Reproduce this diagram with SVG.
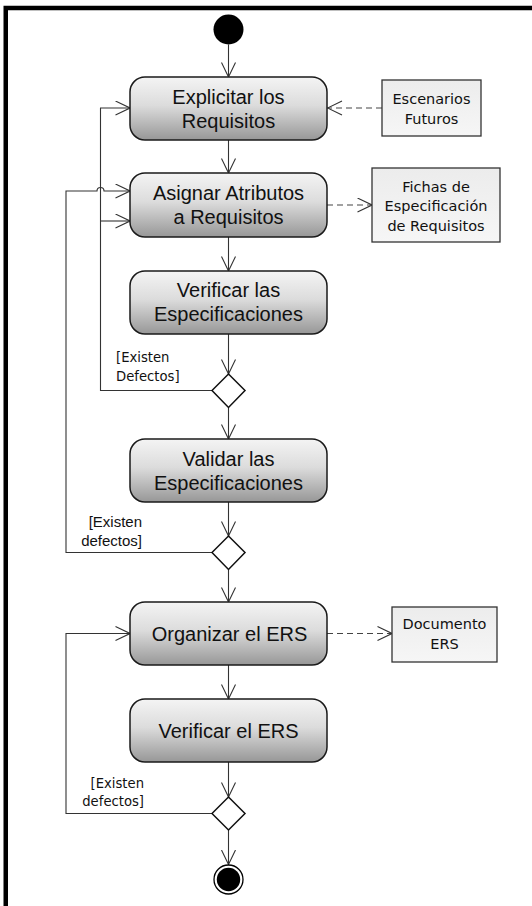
<svg xmlns="http://www.w3.org/2000/svg" width="532" height="906" viewBox="0 0 532 906">
  <style>
    .act { stroke: #1a1a1a; stroke-width: 1.5; fill: url(#actFill); }
    .obj { stroke: #333; stroke-width: 1.3; fill: url(#objFill); }
    .dec { stroke: #111; stroke-width: 1.5; fill: #fff; }
    .flow { stroke: #333; stroke-width: 1.1; fill: none; }
    .dep { stroke: #444; stroke-width: 1.1; fill: none; stroke-dasharray: 6 4; }
    .t-act { font-family: "Liberation Sans", Arial, sans-serif; font-size: 20px; fill: #111; text-anchor: middle; }
    .t-obj { font-family: "DejaVu Sans", Verdana, sans-serif; font-size: 14.5px; fill: #111; text-anchor: middle; }
    .t-grd { font-family: "DejaVu Sans", Verdana, sans-serif; font-size: 13.2px; fill: #111; }
    .t-grd2 { font-family: "Liberation Sans", Arial, sans-serif; font-size: 15px; fill: #111; text-anchor: end; }
  </style>
  <defs>
    <linearGradient id="actFill" x1="0" y1="0" x2="0" y2="1">
      <stop offset="0" stop-color="#f4f4f4"/>
      <stop offset="0.45" stop-color="#dcdcdc"/>
      <stop offset="1" stop-color="#979797"/>
    </linearGradient>
    <linearGradient id="objFill" x1="0" y1="0" x2="0" y2="1">
      <stop offset="0" stop-color="#ececec"/>
      <stop offset="1" stop-color="#f6f6f6"/>
    </linearGradient>
    <marker id="open" viewBox="0 0 16 16" markerUnits="userSpaceOnUse" markerWidth="16" markerHeight="16" refX="15" refY="7.5" orient="auto">
      <path d="M0.5,0.5 L15,7.5 L0.5,14.5" fill="none" stroke="#333" stroke-width="1.1"/>
    </marker>
  </defs>

  <rect width="532" height="906" fill="#fff"/>

  <!-- frame -->
  <path d="M5.75,906 V8 H532" fill="none" stroke="#000" stroke-width="4.5"/>

  <!-- connectors -->
  <g id="connectors">
    <line class="flow" x1="228.5" y1="44.5" x2="228.5" y2="77" marker-end="url(#open)"/>
    <line class="flow" x1="228.5" y1="140" x2="228.5" y2="173" marker-end="url(#open)"/>
    <line class="flow" x1="228.5" y1="237" x2="228.5" y2="271" marker-end="url(#open)"/>
    <line class="flow" x1="228.5" y1="334" x2="228.5" y2="374" marker-end="url(#open)"/>
    <line class="flow" x1="228.5" y1="407.5" x2="228.5" y2="439" marker-end="url(#open)"/>
    <line class="flow" x1="228.5" y1="502" x2="228.5" y2="536" marker-end="url(#open)"/>
    <line class="flow" x1="228.5" y1="569.5" x2="228.5" y2="602" marker-end="url(#open)"/>
    <line class="flow" x1="228.5" y1="665" x2="228.5" y2="699" marker-end="url(#open)"/>
    <line class="flow" x1="228.5" y1="762" x2="228.5" y2="797" marker-end="url(#open)"/>
    <line class="flow" x1="228.5" y1="830" x2="228.5" y2="864.5" marker-end="url(#open)"/>

    <!-- loop back from first decision -->
    <path class="flow" d="M212,390.5 H100.5 V108 H130" marker-end="url(#open)"/>
    <path class="flow" d="M100.5,221 H130" marker-end="url(#open)"/>
    <!-- loop back from second decision, hopping over the first loop -->
    <path class="flow" d="M212,552.5 H66 V191 H97 A3.5,3.5 0 0 1 104,191 H130" marker-end="url(#open)"/>
    <!-- loop back from third decision -->
    <path class="flow" d="M212,813.5 H66 V633.5 H130" marker-end="url(#open)"/>

    <!-- object flows -->
    <line class="dep" x1="382" y1="108" x2="327.5" y2="108" marker-end="url(#open)"/>
    <line class="dep" x1="327" y1="205" x2="372" y2="205" marker-end="url(#open)"/>
    <line class="dep" x1="327" y1="633.5" x2="392" y2="633.5" marker-end="url(#open)"/>
  </g>

  <!-- initial / final -->
  <g id="start"><circle cx="228.5" cy="29.5" r="15" fill="#000"/></g>
  <g id="end">
    <circle cx="228.5" cy="879.5" r="14.5" fill="#fff" stroke="#000" stroke-width="1.3"/>
    <circle cx="228.5" cy="879.5" r="11.7" fill="#000"/>
  </g>

  <!-- activities -->
  <g id="explicitar">
    <rect class="act" x="130" y="77" width="197" height="63" rx="15"/>
    <text class="t-act" x="228.5" y="103.5">Explicitar los</text>
    <text class="t-act" x="228.5" y="127.5">Requisitos</text>
  </g>
  <g id="asignar">
    <rect class="act" x="130" y="173" width="197" height="64" rx="15"/>
    <text class="t-act" x="228.5" y="200">Asignar Atributos</text>
    <text class="t-act" x="228.5" y="224">a Requisitos</text>
  </g>
  <g id="verificar-esp">
    <rect class="act" x="130" y="271" width="197" height="63" rx="15"/>
    <text class="t-act" x="228.5" y="297">Verificar las</text>
    <text class="t-act" x="228.5" y="321">Especificaciones</text>
  </g>
  <g id="validar">
    <rect class="act" x="130" y="439" width="197" height="63" rx="15"/>
    <text class="t-act" x="228.5" y="465.5">Validar las</text>
    <text class="t-act" x="228.5" y="489.5">Especificaciones</text>
  </g>
  <g id="organizar">
    <rect class="act" x="130" y="602" width="197" height="63" rx="15"/>
    <text class="t-act" x="229.5" y="641">Organizar el ERS</text>
  </g>
  <g id="verificar-ers">
    <rect class="act" x="130" y="699" width="197" height="63" rx="15"/>
    <text class="t-act" x="228.5" y="737.5">Verificar el ERS</text>
  </g>

  <!-- decisions -->
  <g id="dec1"><path class="dec" d="M228.5,374 L245,390.5 L228.5,407.5 L212,390.5 Z"/></g>
  <g id="dec2"><path class="dec" d="M228.5,536 L245,552.5 L228.5,569.5 L212,552.5 Z"/></g>
  <g id="dec3"><path class="dec" d="M228.5,797 L245,813.5 L228.5,830 L212,813.5 Z"/></g>

  <!-- guards -->
  <g id="guard1">
    <text class="t-grd" x="116" y="362">[Existen</text>
    <text class="t-grd" x="116" y="381">Defectos]</text>
  </g>
  <g id="guard2">
    <text class="t-grd2" x="142" y="527">[Existen</text>
    <text class="t-grd2" x="142" y="546">defectos]</text>
  </g>
  <g id="guard3">
    <text class="t-grd" x="144" y="788" text-anchor="end">[Existen</text>
    <text class="t-grd" x="144" y="806" text-anchor="end">defectos]</text>
  </g>

  <!-- objects -->
  <g id="escenarios">
    <rect class="obj" x="382" y="80" width="99" height="56"/>
    <text class="t-obj" x="431.5" y="103.5">Escenarios</text>
    <text class="t-obj" x="431.5" y="123.5">Futuros</text>
  </g>
  <g id="fichas">
    <rect class="obj" x="372" y="168" width="128" height="74"/>
    <text class="t-obj" x="436" y="191.5">Fichas de</text>
    <text class="t-obj" x="436" y="211">Especificación</text>
    <text class="t-obj" x="436" y="230.5">de Requisitos</text>
  </g>
  <g id="documento">
    <rect class="obj" x="392" y="607" width="105" height="55"/>
    <text class="t-obj" x="444.5" y="629">Documento</text>
    <text class="t-obj" x="444.5" y="649">ERS</text>
  </g>
</svg>
